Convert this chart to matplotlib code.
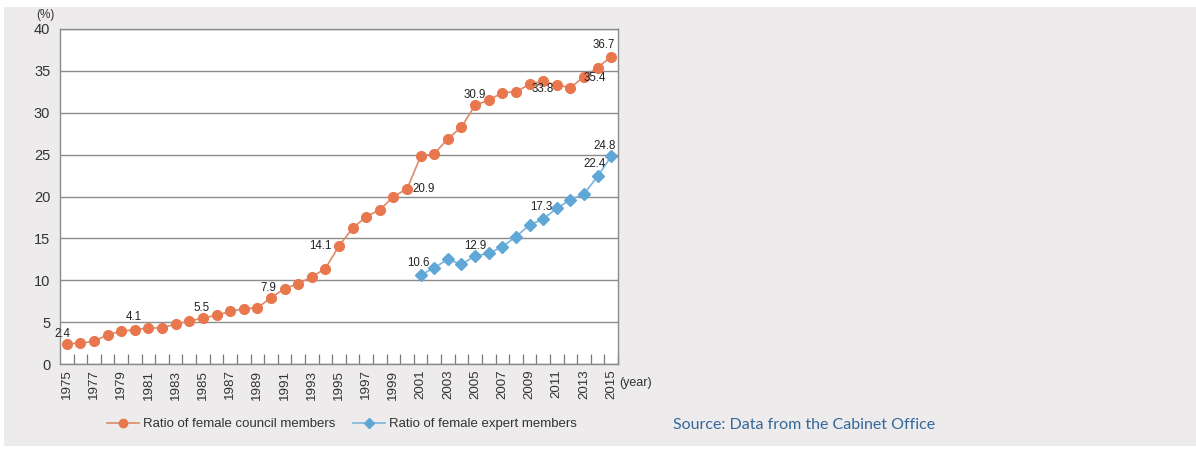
import matplotlib
matplotlib.use("Agg")
import matplotlib.pyplot as plt
from matplotlib.patches import Rectangle
from matplotlib.lines import Line2D
import numpy as np

# ---- data ----
years = list(range(1975, 2016))
council = [2.4, 2.5, 2.7, 3.5, 3.9, 4.1, 4.3, 4.3, 4.8, 5.1,
           5.5, 5.8, 6.3, 6.6, 6.7, 7.9, 9.0, 9.6, 10.4, 11.4,
           14.1, 16.2, 17.6, 18.4, 20.0, 20.9, 24.8, 25.1, 26.9, 28.3,
           30.9, 31.5, 32.4, 32.5, 33.4, 33.8, 33.3, 33.0, 34.3, 35.4,
           36.7]
expert_years = list(range(2001, 2016))
expert = [10.6, 11.5, 12.5, 11.9, 12.9, 13.2, 14.0, 15.2, 16.6, 17.3,
          18.6, 19.6, 20.3, 22.4, 24.8]

council_labelled = [1975, 1980, 1985, 1990, 1995, 2000, 2005, 2010, 2014, 2015]
expert_labelled = [2001, 2005, 2010, 2014, 2015]

y_ticks = [0, 5, 10, 15, 20, 25, 30, 35, 40]
legend_labels = ["Ratio of female council members", "Ratio of female expert members"]
source_text = "Source: Data from the Cabinet Office"

# ---- style ----
ORANGE = "#e8774d"
ORANGE_LINE = "#dc8a6a"
BLUE = "#5ea7d6"
BLUE_LINE = "#7ab6dc"
GRID = "#8c8c8c"
TEXT = "#333333"
PANEL = "#edebeb"
NARROW = ["Liberation Sans Narrow", "Liberation Sans", "DejaVu Sans"]

plt.rcParams["font.family"] = ["Liberation Sans", "DejaVu Sans"]

W, H = 1196, 450
fig = plt.figure(figsize=(W / 100, H / 100), dpi=100)
fig.patch.set_facecolor("white")
fig.add_artist(Rectangle((4 / W, 4 / H), 1 - 4 / W, (H - 11) / H,
                         transform=fig.transFigure, facecolor=PANEL,
                         edgecolor="none", zorder=-10))

ax = fig.add_axes([60 / W, 86 / H, 558 / W, 335 / H])
ax.set_facecolor("white")

x_all = np.arange(len(years))
x_exp = np.array([years.index(y) for y in expert_years])

ax.plot(x_all, council, color=ORANGE_LINE, lw=1.2, zorder=3)
ax.plot(x_all, council, ls="none", marker="o", ms=7, color=ORANGE,
        mec=ORANGE, zorder=4)
ax.plot(x_exp, expert, color=BLUE_LINE, lw=1.2, zorder=3)
ax.plot(x_exp, expert, ls="none", marker="D", ms=5.8, color=BLUE,
        mec=BLUE, zorder=4)

ax.set_xlim(-0.5, len(years) - 0.5)
ax.set_ylim(0, 40)
ax.set_yticks(y_ticks)
ax.set_yticklabels([str(v) for v in y_ticks], fontsize=10.5, color=TEXT)
ax.tick_params(axis="y", length=0, pad=7)
ax.yaxis.grid(True, color=GRID, lw=1)
ax.set_axisbelow(True)

ax.set_xticks(x_all[::2])
ax.set_xticklabels([str(y) for y in years[::2]], rotation=90, fontsize=9.6,
                   color=TEXT)
ax.set_xticks(np.arange(len(years)) + 0.5, minor=True)
ax.tick_params(axis="x", which="major", length=0, pad=4)
ax.tick_params(axis="x", which="minor", direction="in", length=7,
               color="#7a7a7a", width=0.9)
for s in ax.spines.values():
    s.set_color("#8a8a8a")
    s.set_linewidth(1)

# value labels (pixel offsets relative to each point)
council_offsets = {1975: (-4, 10, "center"), 1980: (-1, 13, "center"),
                   1985: (-1, 10, "center"), 1990: (-3, 10, "center"),
                   1995: (-7, 0, "right"), 2000: (5, 0, "left"),
                   2005: (0, 10, "center"), 2010: (0, -8, "center"),
                   2014: (-3, -10, "center"), 2015: (-7, 12, "center")}
expert_offsets = {2001: (-2, 12, "center"), 2005: (0, 10, "center"),
                  2010: (-2, 12, "center"), 2014: (-3, 12, "center"),
                  2015: (-7, 10, "center")}

for yr in council_labelled:
    i = years.index(yr)
    dx, dy, ha = council_offsets[yr]
    ax.annotate(f"{council[i]:.1f}", (i, council[i]), xytext=(dx, dy),
                textcoords="offset pixels", ha=ha, va="center",
                fontsize=8.3, family=NARROW, color="#222222", zorder=5)
for yr in expert_labelled:
    j = expert_years.index(yr)
    dx, dy, ha = expert_offsets[yr]
    ax.annotate(f"{expert[j]:.1f}", (years.index(yr), expert[j]),
                xytext=(dx, dy), textcoords="offset pixels", ha=ha,
                va="center", fontsize=8.3, family=NARROW, color="#222222",
                zorder=5)

fig.text(36 / W, 1 - 15 / H, "(%)", fontsize=8.5, color=TEXT, ha="left",
         va="center")
fig.text(619 / W, 1 - 383 / H, "(year)", fontsize=9, color=TEXT,
         ha="left", va="center")

handles = [Line2D([], [], color=ORANGE_LINE, lw=1.2, marker="o", ms=6,
                  mfc=ORANGE, mec=ORANGE),
           Line2D([], [], color=BLUE_LINE, lw=1.2, marker="D", ms=5,
                  mfc=BLUE, mec=BLUE)]
fig.legend(handles, legend_labels, loc="center left",
           bbox_to_anchor=(107 / W, 1 - 424 / H), ncol=2, frameon=False,
           fontsize=9.5, handlelength=2.4, handletextpad=0.3,
           columnspacing=1.4, borderpad=0, borderaxespad=0,
           labelcolor=TEXT)

fig.text(673 / W, 1 - 425 / H, source_text, fontsize=11.5,
         family=["Lato", "DejaVu Sans"], color="#34689b", ha="left",
         va="center")

fig.savefig("out.png", dpi=100, facecolor=fig.get_facecolor())
